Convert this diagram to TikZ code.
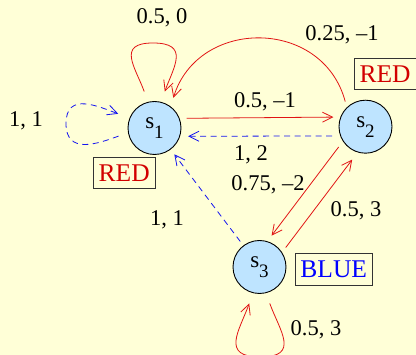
\documentclass[tikz,border=0pt]{standalone}
\usepackage{fontspec}
\setmainfont{Liberation Serif}
\usetikzlibrary{arrows.meta}
\definecolor{bgc}{RGB}{255,255,215}
\definecolor{nodefill}{RGB}{190,228,255}
\definecolor{edgered}{RGB}{225,20,20}
\definecolor{txtred}{RGB}{210,0,0}
\definecolor{txtblue}{RGB}{0,0,255}
\definecolor{edgeblue}{RGB}{20,20,240}
\begin{document}
\begin{tikzpicture}[x=1pt,y=1pt,
 state/.style={circle, draw=black, line width=0.9pt, fill=nodefill, minimum size=53pt, inner sep=0pt, font=\fontsize{23}{23}\selectfont},
 lbl/.style={inner sep=0pt, font=\fontsize{22.5}{22.5}\selectfont},
 tag/.style={draw=black!80, line width=0.8pt, inner xsep=5.5pt, inner ysep=7.5pt, font=\fontsize{25.5}{25.5}\selectfont},
 redge/.style={draw=edgered, line width=0.8pt, -{Straight Barb[length=10pt,width=10pt]}},
 bedge/.style={draw=edgeblue, line width=0.8pt, dash pattern=on 6pt off 4.5pt, -{Straight Barb[length=10pt,width=10pt]}}
]
\fill[bgc] (0,0) rectangle (416,355);
\useasboundingbox (0,0) rectangle (416,355);

\node[state] (s1) at (154.5,227) {s\raisebox{-10pt}{\fontsize{19}{19}\selectfont 1}};
\node[state] (s2) at (365.5,228.3) {s\raisebox{-10pt}{\fontsize{19}{19}\selectfont 2}};
\node[state] (s3) at (259.5,88) {s\raisebox{-10pt}{\fontsize{19}{19}\selectfont 3}};

\coordinate (a1) at (153,312);
\coordinate (aL) at (66,231.5);
\coordinate (a3) at (260.5,-2);

\draw[redge, shorten <=11pt, shorten >=11pt] (s1.104) to[out=110,in=180,looseness=1.6] (a1) to[out=0,in=70,looseness=1.6] (s1.76);
\draw[bedge, shorten <=10pt, shorten >=12pt] (s1.190) to[out=200,in=-90,looseness=1.3] (aL) to[out=90,in=160,looseness=1.3] (s1.158);
\draw[redge, shorten <=6pt, shorten >=9pt] (s2.134) to[out=105,in=73,looseness=1.35] (s1.53);
\draw[redge, shorten <=7pt, shorten >=7pt] (s1.21) -- (s2.159);
\draw[bedge, shorten <=8pt, shorten >=8pt] (s2.200) -- (s1.-18);
\draw[bedge, shorten <=5pt, shorten >=6pt] (s3.127) -- (s1.-53);
\draw[redge, shorten <=7pt, shorten >=7pt] (s2.213) -- (s3.73);
\draw[redge, shorten <=6pt, shorten >=9pt] (s3.33) -- (s2.253);
\draw[redge, shorten <=11pt, shorten >=11pt] (s3.-76) to[out=-70,in=0,looseness=1.6] (a3) to[out=180,in=-110,looseness=1.6] (s3.-104);

\node[lbl] (l1) at (162,337) {0.5, 0};
\node[lbl] (l2) at (26,234) {1, 1};
\node[tag, text=txtred] (t1) at (124.2,182) {RED};
\node[lbl] (l3) at (342,320) {0.25, --1};
\node[tag, text=txtred] (t2) at (385,281) {RED};
\node[lbl] (l4) at (265,253) {0.5, --1};
\node[lbl] (l5) at (251,200) {1, 2};
\node[lbl] (l6) at (268,170) {0.75, --2};
\node[lbl] (l7) at (356,144) {0.5, 3};
\node[lbl] (l8) at (167,135) {1, 1};
\node[tag, text=txtblue] (t3) at (333.7,85.3) {BLUE};
\node[lbl] (l9) at (316,25) {0.5, 3};
\end{tikzpicture}
\end{document}
